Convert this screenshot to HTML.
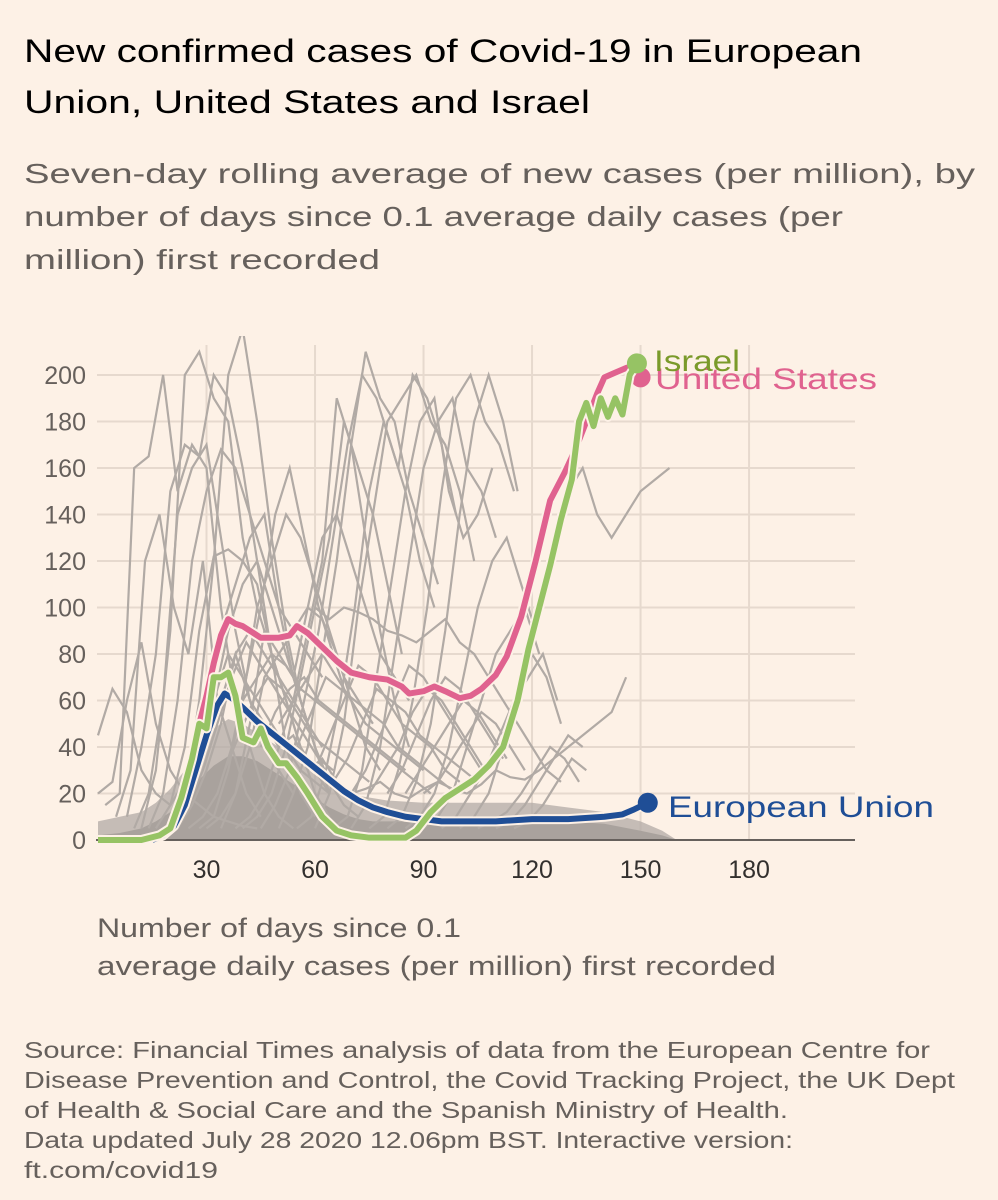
<!DOCTYPE html>
<html><head><meta charset="utf-8"><style>
html,body{margin:0;padding:0;background:#fff1e5;}
svg{display:block;font-family:"Liberation Sans",sans-serif;}
</style></head><body>
<svg id="chart" width="998" height="1200" viewBox="0 0 998 1200">
<rect width="998" height="1200" fill="#fdf1e6"/>
<text font-size="32" fill="#000">
<tspan x="24" y="62" textLength="838" lengthAdjust="spacingAndGlyphs">New confirmed cases of Covid-19 in European</tspan>
<tspan x="24" y="113" textLength="566" lengthAdjust="spacingAndGlyphs">Union, United States and Israel</tspan></text>
<text font-size="28" fill="#66605c">
<tspan x="24" y="183" textLength="951" lengthAdjust="spacingAndGlyphs">Seven-day rolling average of new cases (per million), by</tspan>
<tspan x="24" y="226" textLength="819" lengthAdjust="spacingAndGlyphs">number of days since 0.1 average daily cases (per</tspan>
<tspan x="24" y="269" textLength="356" lengthAdjust="spacingAndGlyphs">million) first recorded</tspan></text>
<g id="grid"></g>
<g id="grey" clip-path="url(#clip)"></g>
<defs><clipPath id="clip"><rect x="94" y="336" width="800" height="505"/></clipPath></defs>
<g id="main"></g>
<text font-size="27" fill="#66605c">
<tspan x="97" y="937" textLength="364" lengthAdjust="spacingAndGlyphs">Number of days since 0.1</tspan>
<tspan x="97" y="975" textLength="679" lengthAdjust="spacingAndGlyphs">average daily cases (per million) first recorded</tspan></text>
<text font-size="23" fill="#66605c">
<tspan x="24" y="1058" textLength="906" lengthAdjust="spacingAndGlyphs">Source: Financial Times analysis of data from the European Centre for</tspan>
<tspan x="24" y="1088" textLength="931" lengthAdjust="spacingAndGlyphs">Disease Prevention and Control, the Covid Tracking Project, the UK Dept</tspan>
<tspan x="24" y="1118" textLength="764" lengthAdjust="spacingAndGlyphs">of Health &amp; Social Care and the Spanish Ministry of Health.</tspan>
<tspan x="24" y="1148" textLength="769" lengthAdjust="spacingAndGlyphs">Data updated July 28 2020 12.06pm BST. Interactive version:</tspan>
<tspan x="24" y="1178" textLength="194" lengthAdjust="spacingAndGlyphs">ft.com/covid19</tspan></text>
</svg>
<script>
const yTicks=[0,20,40,60,80,100,120,140,160,180,200];
const xTicks=[30,60,90,120,150,180];
const usDays=[28,30,32,34,36,38,40,45,50,53,55,58,62,66,70,75,80,84,86,90,93,96,100,103,106,110,113,117,121,125,129,132,135,138,140,143,146,148,150];
const usVals=[50,62,76,88,95,93,92,87,87,88,92,89,83,77,72,70,69,66,63,64,66,64,61,62,65,71,79,96,120,146,158,168,180,192,199,201,203,204,199];
const ilDays=[0,12,17,20,23,26,28,30,32,34,36,38,40,43,45,47,50,52,55,58,62,66,70,75,80,85,88,92,96,100,104,108,112,116,119,122,125,128,131,133,135,137,139,141,143,145,147,149];
const ilVals=[0,0,2,5,18,35,50,48,70,70,72,62,44,42,48,40,33,33,27,20,10,4,2,1,1,1,4,12,18,22,26,32,40,60,82,100,118,138,155,180,188,178,190,182,190,183,200,205];
const euDays=[15,18,21,24,27,30,33,35,37,40,44,48,52,56,60,64,68,72,76,80,85,90,95,100,110,120,130,140,145,148,152];
const euVals=[0,2,6,15,30,45,58,63,61,57,51,46,41,36,31,26,21,17,14,12,10,9,8,8,8,9,9,10,11,13,16];
const massDays=[0,6,12,16,20,24,28,32,36,40,44,48,52,56,60,64,68,72,76,80,90,100,110,120,130,140,150,156,160];
const massVals=[8,10,12,16,22,30,40,48,52,50,46,42,38,33,28,24,21,19,18,17,16,16,16,16,14,12,8,4,0];
const massCoreVals=[2,3,5,8,12,18,26,32,36,36,34,30,26,22,18,14,11,9,8,8,8,8,9,9,8,7,4,2,0];
const greyStart=[0,0,2,5,8,10,12,14,16,18,20,22,25,28,30,34,38,40,45,50,55,60,65,70,75,80,85,90,95,100,105,110,115,60,30,130,40,50,55,60,65,70,75,80,85,90,20,25,35,45];
const greyVals=[
[45,65,55,30,20,15,25,40,60,90,110,120,100,80,60,40,25,15,10],
[20,25,60,85,50,30,20,15,10,8,6,5],
[15,20,160,165,200,150,170,160,100,60,40,20,10,5],
[10,30,120,140,100,80,120,60,40,20,10],
[10,40,80,150,170,165,200,190,160,120,80,40,20,10],
[5,20,60,140,160,170,130,90,60,40,30,20],
[5,30,90,200,210,190,180,130,100,80,60,40,30,20],
[5,20,60,120,150,168,160,140,120,100,90,80,70],
[5,15,40,90,122,125,120,110,80,60,40,20,10],
[5,10,30,60,90,110,130,140,100,70,50,30],
[5,20,60,120,200,220,180,130,90,60,40,20],
[5,15,30,50,80,90,80,70,60,50,40],
[5,10,20,40,70,100,140,160,130,100,80,60],
[5,10,30,60,100,120,140,130,110,90,70,60,50],
[5,10,20,40,70,80,90,100,95,80,60,40,30],
[5,20,50,90,80,70,100,130,140,120,100,80,70,60],
[5,10,20,40,60,90,120,190,170,130,90,60,40],
[5,10,20,40,70,100,130,180,160,140,110,80],
[5,15,30,60,90,130,170,200,190,170,150,120,100],
[5,20,40,80,120,170,210,190,180,150,130,110],
[5,10,30,60,100,150,180,160,200,190,170,140],
[5,20,50,100,140,180,190,200,180,170,150,120],
[5,10,30,70,110,150,180,190,150,130,140,160],
[5,15,40,80,120,160,180,190,160,150,130],
[5,10,30,60,100,150,190,200,180,170,150],
[5,10,25,50,90,140,180,200,180,150],
[5,10,20,40,70,100,120,130,110,90],
[5,10,20,40,60,80,90,100,80],
[5,10,20,30,45,60,70,80,60],
[5,10,20,40,60,80,70,50],
[5,8,12,20,30,40,35,25],
[5,8,15,25,35,45,40],
[5,8,15,25,35,30],
[100,95,100,98,95,90,88,85,90,95,85,80,70,60,50,40,30,25],
[40,60,80,60,50,40,45,30,35,25,20,22,25,20,18,22,25,22,20,24,30,27,26,30,35,40,45,50,55,70],
[150,160,140,130,140,150,155,160],
[60,70,80,75,65,60,55,50,45,40,35,30,25,20],
[50,60,70,80,70,60,50,45,40,35,30],
[40,55,70,65,60,55,50,40,35,30,25,20],
[30,45,60,75,70,60,50,45,40,30,25],
[25,35,50,65,60,55,45,40,35,30,25],
[20,30,45,60,75,70,60,50,40,30],
[20,30,40,55,65,60,50,40,30],
[20,30,45,60,70,65,55,45,35],
[20,30,40,50,60,55,45,35],
[20,25,35,45,55,50,40,30],
[15,25,40,60,80,70,60,50,40,30,25,20],
[15,30,50,70,85,75,65,55,45,35,30],
[30,45,60,70,65,55,45,40,35,30,25],
[40,55,65,70,60,55,50,45,40,35,30]
];
const X0=98,XS=3.617,Y0=840,YS=2.325;
const x=d=>X0+d*XS, y=v=>Y0-v*YS;
const NS='http://www.w3.org/2000/svg';
function mk(t,a,p){const e=document.createElementNS(NS,t);for(const k in a)e.setAttribute(k,a[k]);p.appendChild(e);return e;}
const grid=document.getElementById('grid');
for(const t of yTicks){
  const l=mk('line',{x1:97,x2:855,y1:y(t),y2:y(t),stroke:'#e6d9ce','stroke-width':2},grid);
  
  
  const tx=mk('text',{x:86,y:y(t)+9,'text-anchor':'end','font-size':25,fill:'#66605c'},grid);
  
  
  tx.textContent=t;
}
for(const t of xTicks){
  const l=mk('line',{x1:x(t),x2:x(t),y1:345,y2:Y0,stroke:'#e6d9ce','stroke-width':2},grid);
  
  
  const tx=mk('text',{x:x(t),y:878,'text-anchor':'middle','font-size':25,fill:'#33302e'},grid);
  
  
  tx.textContent=t;
}
const grey=document.getElementById('grey');
function area(vals,fill,op,name){
  let md='M'+x(massDays[0])+','+Y0;
  massDays.forEach((d,i)=>md+=' L'+x(d)+','+y(vals[i]));
  md+=' L'+x(massDays[massDays.length-1])+','+Y0+'Z';
  const m=mk('path',{d:md,fill:fill,'fill-opacity':op},grey);
  
  
}
area(massVals,'#b1aaa5',0.75,'other-countries-mass');
area(massCoreVals,'#a9a29d',1,'other-countries-core');
greyVals.forEach((vals,i)=>{
  const s=greyStart[i];
  const d=vals.map((v,j)=>(j?'L':'M')+x(s+j*4)+','+y(v)).join(' ');
  const p=mk('path',{d:d,fill:'none',stroke:'#b1aaa5','stroke-width':2.2},grey);
  
  
});
const main=document.getElementById('main');
const ax=mk('line',{x1:96,x2:855,y1:Y0,y2:Y0,stroke:'#66605c','stroke-width':2},main);


function series(days,vals,col,name){
  const d=days.map((dd,i)=>(i?'L':'M')+x(dd)+','+y(vals[i])).join(' ');
  const h=mk('path',{d:d,fill:'none',stroke:'#fdf1e6','stroke-width':10,'stroke-linejoin':'round'},main);
  
  
  const p=mk('path',{d:d,fill:'none',stroke:col,'stroke-width':6,'stroke-linejoin':'round'},main);
  
  
  const n=days.length-1;
  const c=mk('circle',{cx:x(days[n]),cy:y(vals[n]),r:10,fill:col},main);
  
  
}
series(euDays,euVals,'#1f4e96','european-union');
series(usDays,usVals,'#e0628f','united-states');
series(ilDays,ilVals,'#96c364','israel');
function label(t,xx,yy,col,name,w){
  const e=mk('text',{x:xx,y:yy,'font-size':30,fill:col,textLength:w,lengthAdjust:'spacingAndGlyphs'},main);
  
  
  e.textContent=t;
}
label('United States',655,389,'#e0628f','united-states-label',222);
label('Israel',654,371,'#7a9a2a','israel-label',86);
label('European Union',668,817,'#1f4e96','european-union-label',266);
</script>
</body></html>
